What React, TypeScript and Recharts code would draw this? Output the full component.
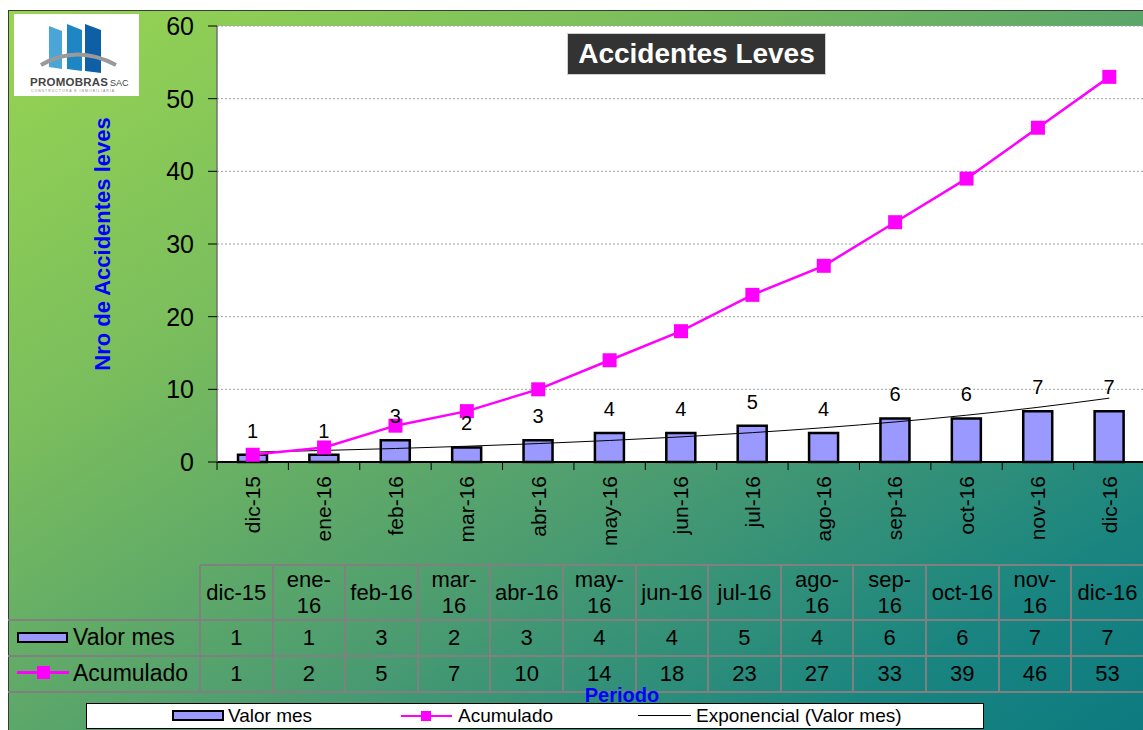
import React from 'react';
import {
  ComposedChart,
  Bar,
  Line,
  XAxis,
  YAxis,
  CartesianGrid,
  LabelList,
} from 'recharts';

const categories = ['dic-15', 'ene-16', 'feb-16', 'mar-16', 'abr-16', 'may-16', 'jun-16', 'jul-16', 'ago-16', 'sep-16', 'oct-16', 'nov-16', 'dic-16'];
const tableHeaders = ['dic-15', 'ene-\n16', 'feb-16', 'mar-\n16', 'abr-16', 'may-\n16', 'jun-16', 'jul-16', 'ago-\n16', 'sep-\n16', 'oct-16', 'nov-\n16', 'dic-16'];
const valorMes = [1, 1, 3, 2, 3, 4, 4, 5, 4, 6, 6, 7, 7];
const acumulado = [1, 2, 5, 7, 10, 14, 18, 23, 27, 33, 39, 46, 53];
const yTicks = [0, 10, 20, 30, 40, 50, 60];

const FONT = '"Liberation Sans", Arial, sans-serif';
const BAR_FILL = '#9999FF';
const MAGENTA = '#FF00FF';

// Excel-style exponential trendline (least squares on ln y)
function expTrend(values: number[]) {
  const n = values.length;
  const xs = values.map((_, i) => i + 1);
  const ly = values.map((v) => Math.log(v));
  const mx = xs.reduce((a, b) => a + b, 0) / n;
  const my = ly.reduce((a, b) => a + b, 0) / n;
  let sxy = 0;
  let sxx = 0;
  xs.forEach((x, i) => {
    sxy += (x - mx) * (ly[i] - my);
    sxx += (x - mx) * (x - mx);
  });
  const b = sxy / sxx;
  const a = my - b * mx;
  return xs.map((x) => Math.exp(a + b * x));
}

const trend = expTrend(valorMes);

const data = categories.map((c, i) => ({
  periodo: c,
  valor: valorMes[i],
  acum: acumulado[i],
  trend: trend[i],
}));

const PLOT_LEFT = 217;
const PLOT_RIGHT = 1145;
const HALF_BAND = (PLOT_RIGHT - PLOT_LEFT) / categories.length / 2;

const SquareDot = (props: any) => {
  const { cx, cy } = props;
  if (cx == null || cy == null) return null;
  return <rect x={cx - 7} y={cy - 7} width={14} height={14} fill={MAGENTA} />;
};

const XTick = (props: any) => {
  const { x, y, payload } = props;
  return (
    <g>
      <line x1={x - HALF_BAND} x2={x - HALF_BAND} y1={y} y2={y + 8} stroke="#000" strokeWidth={1} />
      <text
        x={x}
        y={y + 14}
        transform={`rotate(-90, ${x}, ${y + 14})`}
        textAnchor="end"
        dy="0.35em"
        fontSize={21}
        fontFamily={FONT}
        fill="#000"
      >
        {payload.value}
      </text>
    </g>
  );
};

const BarValueLabel = (props: any) => {
  const { x, y, width, value } = props;
  return (
    <text
      x={Number(x) + Number(width) / 2}
      y={Number(y) - 24}
      textAnchor="middle"
      dominantBaseline="central"
      fontSize={20}
      fontFamily={FONT}
      fill="#000"
    >
      {value}
    </text>
  );
};

const COL_X = 200;
const COL_W = 72.6;
const ROW_Y = [565, 620, 656, 692];
const GRID = '#808080';

function DataTable() {
  const cells: React.ReactNode[] = [];
  // horizontal lines
  cells.push(<div key="h0" style={{ position: 'absolute', left: COL_X, top: ROW_Y[0] - 1, width: 1143 - COL_X, height: 2, background: GRID }} />);
  for (let r = 1; r < ROW_Y.length; r++) {
    cells.push(<div key={`h${r}`} style={{ position: 'absolute', left: 8, top: ROW_Y[r] - 1, width: 1135, height: 2, background: GRID }} />);
  }
  for (let c = 0; c <= categories.length; c++) {
    cells.push(
      <div key={`v${c}`} style={{ position: 'absolute', left: COL_X + c * COL_W - 1, top: ROW_Y[0], width: 2, height: ROW_Y[3] - ROW_Y[0], background: GRID }} />
    );
  }
  const cellStyle = (c: number, r: number): React.CSSProperties => ({
    position: 'absolute',
    left: COL_X + c * COL_W,
    top: ROW_Y[r],
    width: COL_W,
    height: ROW_Y[r + 1] - ROW_Y[r],
    display: 'flex',
    alignItems: 'center',
    justifyContent: 'center',
    textAlign: 'center',
    whiteSpace: 'pre',
    fontSize: 22,
    lineHeight: r === 0 ? '26px' : '22px',
    color: '#000',
  });
  tableHeaders.forEach((h, c) => {
    cells.push(<div key={`th${c}`} style={cellStyle(c, 0)}>{h}</div>);
    cells.push(<div key={`v1${c}`} style={cellStyle(c, 1)}>{valorMes[c]}</div>);
    cells.push(<div key={`v2${c}`} style={cellStyle(c, 2)}>{acumulado[c]}</div>);
  });
  return (
    <>
      {cells}
      <div style={{ position: 'absolute', left: 17, top: 632, width: 47, height: 7, background: BAR_FILL, border: '2.5px solid #000' }} />
      <div style={{ position: 'absolute', left: 73, top: 625, fontSize: 23, lineHeight: '24px' }}>Valor mes</div>
      <div style={{ position: 'absolute', left: 17, top: 671, width: 52, height: 3, background: MAGENTA }} />
      <div style={{ position: 'absolute', left: 37, top: 666, width: 13, height: 13, background: MAGENTA }} />
      <div style={{ position: 'absolute', left: 73, top: 661, fontSize: 23, lineHeight: '24px' }}>Acumulado</div>
    </>
  );
}

function Logo() {
  return (
    <div style={{ position: 'absolute', left: 14, top: 14, width: 125, height: 82, background: '#fff' }}>
      <svg width={125} height={82}>
        <polygon points="35,12 48,17 48,55 35,53" fill="#4aa6d6" />
        <polygon points="53,10 68,16 68,57 53,55" fill="#1f86c4" />
        <polygon points="71,10 87,16 87,59 71,57" fill="#0f5fa6" />
        <path d="M27,51 Q63,30 102,51" stroke="#9a9a9a" strokeWidth={4} fill="none" />
        <text x={16} y={72} fontSize={11.5} fontWeight="bold" fontFamily={FONT} fill="#444" textLength={78}>PROMOBRAS</text>
        <text x={96} y={72} fontSize={9} fontFamily={FONT} fill="#444">SAC</text>
        <text x={17} y={78} fontSize={3.5} fontFamily={FONT} fill="#888" letterSpacing={1}>CONSTRUCTORA E INMOBILIARIA</text>
      </svg>
    </div>
  );
}

function Legend() {
  return (
    <div style={{ position: 'absolute', left: 86, top: 703, width: 896, height: 24, background: '#fff', border: '1px solid #000', fontSize: 19 }}>
      <div style={{ position: 'absolute', left: 85, top: 6, width: 48, height: 7, background: BAR_FILL, border: '2.5px solid #000' }} />
      <div style={{ position: 'absolute', left: 141, top: 1, lineHeight: '22px' }}>Valor mes</div>
      <div style={{ position: 'absolute', left: 314, top: 11, width: 51, height: 2, background: MAGENTA }} />
      <div style={{ position: 'absolute', left: 334, top: 7, width: 10, height: 10, background: MAGENTA }} />
      <div style={{ position: 'absolute', left: 371, top: 1, lineHeight: '22px' }}>Acumulado</div>
      <div style={{ position: 'absolute', left: 551, top: 11, width: 53, height: 1, background: '#000' }} />
      <div style={{ position: 'absolute', left: 609, top: 1, lineHeight: '22px' }}>Exponencial (Valor mes)</div>
    </div>
  );
}

export default function App() {
  return (
    <div
      style={{
        position: 'fixed',
        left: 0,
        top: 0,
        width: 1143,
        height: 730,
        overflow: 'hidden',
        background: '#fff',
        fontFamily: FONT,
      }}
    >
      <div
        style={{
          position: 'absolute',
          left: 8,
          top: 10,
          width: 1140,
          height: 725,
          boxSizing: 'border-box',
          border: '1px solid #3a3a3a',
          background: 'linear-gradient(to bottom right, #98d552 0%, #7abd5d 30%, #4c9c70 60%, #1a8580 85%, #0c7a80 100%)',
        }}
      />
      <Logo />
      <div style={{ position: 'absolute', left: 0, top: 0 }}>
        <ComposedChart
          width={PLOT_RIGHT}
          height={560}
          data={data}
          margin={{ top: 26, right: 0, left: 0, bottom: 0 }}
        >
          <CartesianGrid
            vertical={false}
            stroke="#a0a0a0"
            strokeDasharray="2 2"
            fill="#fff"
            fillOpacity={1}
          />
          <XAxis
            dataKey="periodo"
            height={98}
            interval={0}
            tickSize={0}
            tickMargin={0}
            tickLine={false}
            tick={<XTick />}
            axisLine={{ stroke: '#000', strokeWidth: 2 }}
          />
          <YAxis
            width={PLOT_LEFT}
            domain={[0, 60]}
            ticks={yTicks}
            interval={0}
            tickSize={9}
            tickMargin={14}
            tick={{ fontSize: 25, fill: '#000', fontFamily: FONT }}
            tickLine={{ stroke: '#000' }}
            axisLine={{ stroke: '#707070', strokeWidth: 1.5 }}
          />
          <Bar
            dataKey="valor"
            barSize={29}
            fill={BAR_FILL}
            stroke="#000"
            strokeWidth={2.5}
            isAnimationActive={false}
          >
            <LabelList dataKey="valor" content={<BarValueLabel />} />
          </Bar>
          <Line
            dataKey="trend"
            type="monotone"
            stroke="#000"
            strokeWidth={1}
            dot={false}
            activeDot={false}
            isAnimationActive={false}
          />
          <Line
            dataKey="acum"
            type="linear"
            stroke={MAGENTA}
            strokeWidth={2.5}
            dot={<SquareDot />}
            activeDot={false}
            isAnimationActive={false}
          />
        </ComposedChart>
      </div>
      <div
        style={{
          position: 'absolute',
          left: 567,
          top: 33,
          width: 257,
          height: 40,
          background: '#333',
          border: '1px solid #cfcfcf',
          color: '#fff',
          fontWeight: 'bold',
          fontSize: 28,
          lineHeight: '40px',
          textAlign: 'center',
          whiteSpace: 'nowrap',
        }}
      >
        Accidentes Leves
      </div>
      <div
        style={{
          position: 'absolute',
          left: 103,
          top: 244,
          transform: 'translate(-50%, -50%) rotate(-90deg)',
          color: '#0000FF',
          fontWeight: 'bold',
          fontSize: 22,
          whiteSpace: 'nowrap',
        }}
      >
        Nro de Accidentes leves
      </div>
      <DataTable />
      <div style={{ position: 'absolute', left: 622, top: 686, transform: 'translateX(-50%)', color: '#0000FF', fontWeight: 'bold', fontSize: 20, lineHeight: '18px' }}>
        Periodo
      </div>
      <Legend />
    </div>
  );
}
